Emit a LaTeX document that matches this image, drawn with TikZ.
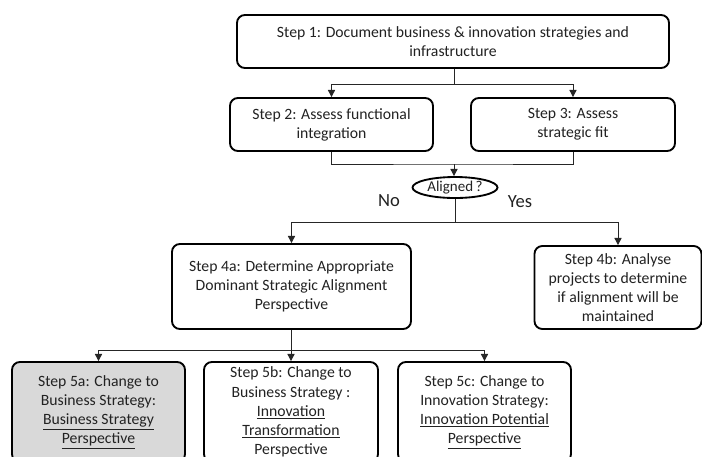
\documentclass[tikz,border=0pt]{standalone}
\usepackage{fontspec}
\setmainfont{Carlito}
\usetikzlibrary{shapes.geometric,arrows.meta}

\definecolor{boxgray}{HTML}{D9D9D9}
\definecolor{inkgray}{HTML}{222222}

\begin{document}
\begin{tikzpicture}[x=0.7pt,y=-0.7pt,
  stepbox/.style={draw=black,line width=1.3pt,rounded corners=5.5pt,fill=white,
    align=center,inner sep=0pt,text=inkgray,font=\fontsize{11}{13.4}\selectfont},
  flow/.style={draw=black!85,line width=0.7pt},
  tip/.style={flow,-{Triangle[length=5pt,width=5pt]}}]
\useasboundingbox (0,0) rectangle (702,456);
\clip (0,0) rectangle (702,456);
\fill[white] (0,0) rectangle (702,456);

% first row and the two assessments
\node[stepbox,minimum width=302.4pt,minimum height=37.1pt] (s1) at (453,41.5)
  {Step 1: Document business \& innovation strategies and\\infrastructure};
\node[stepbox,minimum width=142.1pt,minimum height=37.1pt] (s2) at (331.5,124.5)
  {Step 2: Assess functional\\integration};
\node[stepbox,minimum width=142.8pt,minimum height=37.1pt] (s3) at (573,124.5)
  {Step 3: Assess\\strategic fit};

% decision
\node[draw=black,line width=1.3pt,ellipse,minimum width=59.5pt,minimum height=14.7pt,
  inner sep=0pt,text=inkgray,font=\fontsize{10.5}{12}\selectfont] (al) at (455,187.5) {Aligned\,?};
\node[text=inkgray,font=\fontsize{13}{15}\selectfont] (no) at (389,201) {No};
\node[text=inkgray,font=\fontsize{13}{15}\selectfont] (yes) at (520,202) {Yes};

% outcomes
\node[stepbox,minimum width=167.3pt,minimum height=59.5pt] (s4a) at (291.5,286.5)
  {Step 4a: Determine Appropriate\\Dominant Strategic Alignment\\Perspective};
\node[stepbox,minimum width=116.9pt,minimum height=58.1pt] (s4b) at (618,287.5)
  {Step 4b: Analyse\\projects to determine\\if alignment will be\\maintained};

\node[stepbox,fill=boxgray,minimum width=121.1pt,minimum height=70pt] (s5a) at (98.5,412)
  {Step 5a: Change to\\Business Strategy:\\\underline{Business Strategy}\\\underline{Perspective}};
\node[stepbox,minimum width=121.8pt,minimum height=70pt] (s5b) at (291,412)
  {Step 5b: Change to\\Business Strategy :\\\underline{Innovation}\\\underline{Transformation}\\Perspective};
\node[stepbox,minimum width=121.1pt,minimum height=70pt] (s5c) at (484.5,412)
  {Step 5c: Change to\\Innovation Strategy:\\\underline{Innovation Potential}\\\underline{Perspective}};

% junctions
\coordinate (j1) at (454,84);
\coordinate (j2) at (454,164);
\coordinate (j3) at (455,222);
\coordinate (j4) at (291,350);

\draw[flow] (s1.south -| j1) -- (j1);
\draw[tip] (j1) -| (s2.north);
\draw[tip] (j1) -| (s3.north);
\draw[flow] (s2.south) |- (j2) -| (s3.south);
\draw[tip] (j2) -- (al.north -| j2);
\draw[flow] (al.south) -- (j3);
\draw[tip] (j3) -| (s4a.north);
\draw[tip] (j3) -| (s4b.north);
\draw[flow] (s4a.south -| j4) -- (j4);
\draw[tip] (j4) -| (s5a.north);
\draw[tip] (j4) -- (s5b.north -| j4);
\draw[tip] (j4) -| (s5c.north);
\end{tikzpicture}
\end{document}
